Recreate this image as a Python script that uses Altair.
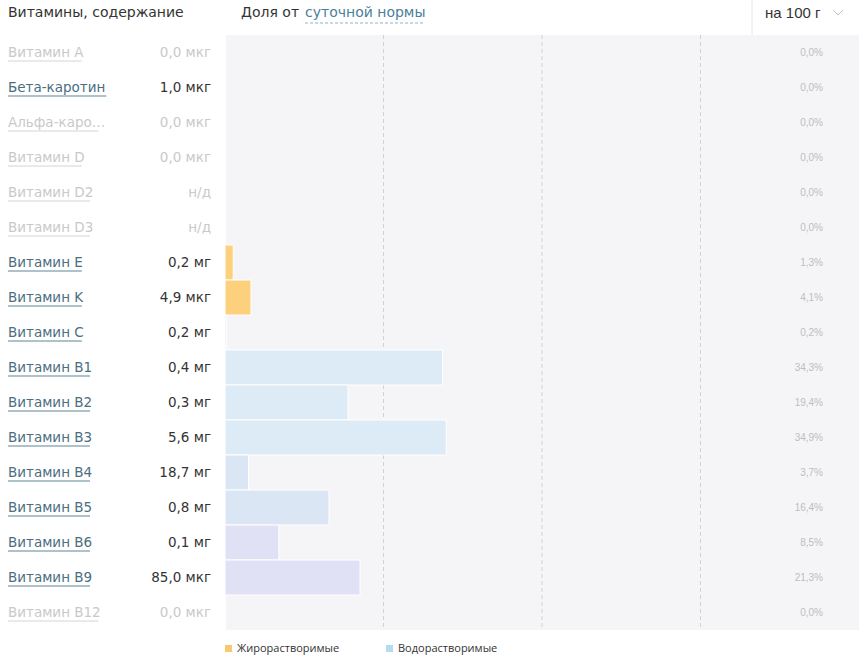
import altair as alt
import pandas as pd

names = ["Витамин A", "Бета-каротин", "Альфа-каро…", "Витамин D", "Витамин D2", "Витамин D3",
         "Витамин E", "Витамин K", "Витамин C", "Витамин B1", "Витамин B2", "Витамин B3",
         "Витамин B4", "Витамин B5", "Витамин B6", "Витамин B9", "Витамин B12"]
amounts = ["0,0 мкг", "1,0 мкг", "0,0 мкг", "0,0 мкг", "н/д", "н/д", "0,2 мг", "4,9 мкг", "0,2 мг",
           "0,4 мг", "0,3 мг", "5,6 мг", "18,7 мг", "0,8 мг", "0,1 мг", "85,0 мкг", "0,0 мкг"]
pct = [0.0, 0.0, 0.0, 0.0, 0.0, 0.0, 1.3, 4.1, 0.2, 34.3, 19.4, 34.9, 3.7, 16.4, 8.5, 21.3, 0.0]
pct_labels = ["0,0%", "0,0%", "0,0%", "0,0%", "0,0%", "0,0%", "1,3%", "4,1%", "0,2%", "34,3%",
              "19,4%", "34,9%", "3,7%", "16,4%", "8,5%", "21,3%", "0,0%"]
active = [False, True, False, False, False, False, True, True, True, True, True, True,
          True, True, True, True, False]
bar_colors = ["#fdd07e"] * 8 + ["#dcebf5"] * 4 + ["#dbe6f4"] * 2 + ["#e1e1f6"] * 3
grid_pct = [25, 50, 75]
legend_labels = ["Жирорастворимые", "Водорастворимые"]
legend_colors = ["#f9c86e", "#b4dbef"]

W, H = 634, 595
LABEL_X = -217

df = pd.DataFrame({
    "name": names,
    "amount": amounts,
    "pct": pct,
    "plabel": pct_labels,
    "ncolor": ["#4b6e80" if a else "#c9c9c9" for a in active],
    "vcolor": ["#333333" if a else "#c9c9c9" for a in active],
    "ucolor": ["#5f8596" if a else "#d4d4d4" for a in active],
    "bcolor": bar_colors,
    "ulen": [len(n) * 8.2 for n in names],
})

yenc = alt.Y("name:N", sort=names, axis=None,
             scale=alt.Scale(paddingInner=0, paddingOuter=0))
base = alt.Chart(df)

grid = alt.Chart(pd.DataFrame({"g": grid_pct})).mark_rule(
    color="#d2d2d2", strokeDash=[4, 3], strokeWidth=1
).encode(x=alt.X("g:Q", scale=alt.Scale(domain=[0, 100]), axis=None))

bars = base.mark_bar(stroke="white", strokeWidth=1).encode(
    x=alt.X("pct:Q", scale=alt.Scale(domain=[0, 100]), axis=None),
    y=yenc,
    fill=alt.Fill("bcolor:N", scale=None),
)

pct_text = base.mark_text(align="right", baseline="middle", font="Liberation Sans",
                          fontSize=10, color="#bdbdbd").encode(
    x=alt.value(598), y=yenc, text="plabel:N")

name_text = base.mark_text(align="left", baseline="middle", font="DejaVu Sans",
                           fontSize=13.5).encode(
    x=alt.value(LABEL_X), y=yenc, text="name:N",
    color=alt.Color("ncolor:N", scale=None))

underline = base.transform_calculate(
    x1p=f"{LABEL_X}", x2p=f"{LABEL_X} + datum.ulen"
).mark_rule(strokeWidth=1, yOffset=8.5).encode(
    x=alt.X("x1p:Q", scale=None), x2="x2p:Q", y=yenc,
    color=alt.Color("ucolor:N", scale=None),
)

val_text = base.mark_text(align="right", baseline="middle", font="DejaVu Sans",
                          fontSize=13.5).encode(
    x=alt.value(-14), y=yenc, text="amount:N",
    color=alt.Color("vcolor:N", scale=None))

hdr = alt.Chart(pd.DataFrame({"t": ["Витамины, содержание"]})).mark_text(
    align="left", baseline="middle", font="DejaVu Sans", fontSize=14, color="#333333"
).encode(x=alt.value(LABEL_X), y=alt.value(-22), text="t:N")

hdr2 = alt.Chart(pd.DataFrame({"t": ["Доля от"]})).mark_text(
    align="left", baseline="middle", font="DejaVu Sans", fontSize=14, color="#333333"
).encode(x=alt.value(16), y=alt.value(-22), text="t:N")

hdr3 = alt.Chart(pd.DataFrame({"t": ["суточной нормы"]})).mark_text(
    align="left", baseline="middle", font="DejaVu Sans", fontSize=14, color="#4a7f9a"
).encode(x=alt.value(80), y=alt.value(-22), text="t:N")

hdr3u = alt.Chart(pd.DataFrame({"t": [1]})).mark_rule(
    color="#8fb3c6", strokeDash=[3, 2], strokeWidth=1
).encode(x=alt.value(80), x2=alt.value(199), y=alt.value(-12))

hdr4 = alt.Chart(pd.DataFrame({"t": ["на 100 г"]})).mark_text(
    align="left", baseline="middle", font="Liberation Sans", fontSize=15, color="#333333"
).encode(x=alt.value(540), y=alt.value(-22), text="t:N")

chev1 = alt.Chart(pd.DataFrame({"t": [1]})).mark_rule(color="#c0c0c0", strokeWidth=1).encode(
    x=alt.value(608), y=alt.value(-25), x2=alt.value(613), y2=alt.value(-20))
chev2 = alt.Chart(pd.DataFrame({"t": [1]})).mark_rule(color="#c0c0c0", strokeWidth=1).encode(
    x=alt.value(613), y=alt.value(-20), x2=alt.value(618), y2=alt.value(-25))

sep = alt.Chart(pd.DataFrame({"t": [1]})).mark_rule(color="#e6e6e6", strokeWidth=1).encode(
    x=alt.value(527), y=alt.value(-35), y2=alt.value(0))

leg_sq1 = alt.Chart(pd.DataFrame({"t": [legend_labels[0]]})).mark_square(
    size=49, color=legend_colors[0], opacity=1).encode(x=alt.value(3.5), y=alt.value(613.5))
leg_tx1 = alt.Chart(pd.DataFrame({"t": [legend_labels[0]]})).mark_text(
    align="left", baseline="middle", font="Open Sans", fontSize=11, color="#333333"
).encode(x=alt.value(12), y=alt.value(614), text="t:N")
leg_sq2 = alt.Chart(pd.DataFrame({"t": [legend_labels[1]]})).mark_square(
    size=49, color=legend_colors[1], opacity=1).encode(x=alt.value(164.5), y=alt.value(613.5))
leg_tx2 = alt.Chart(pd.DataFrame({"t": [legend_labels[1]]})).mark_text(
    align="left", baseline="middle", font="Open Sans", fontSize=11, color="#333333"
).encode(x=alt.value(173), y=alt.value(614), text="t:N")

chart = alt.layer(
    grid, bars, pct_text, name_text, underline, val_text,
    hdr, hdr2, hdr3, hdr3u, hdr4, chev1, chev2, sep, leg_sq1, leg_tx1, leg_sq2, leg_tx2
).properties(
    width=W, height=H,
    autosize=alt.AutoSizeParams(type="none"),
    padding={"left": 225, "top": 35, "right": 0, "bottom": 28},
    background="white",
).configure_view(fill="#f5f5f7", stroke=None)

chart.save("out.html", embed_options={"renderer": "svg", "actions": False})
